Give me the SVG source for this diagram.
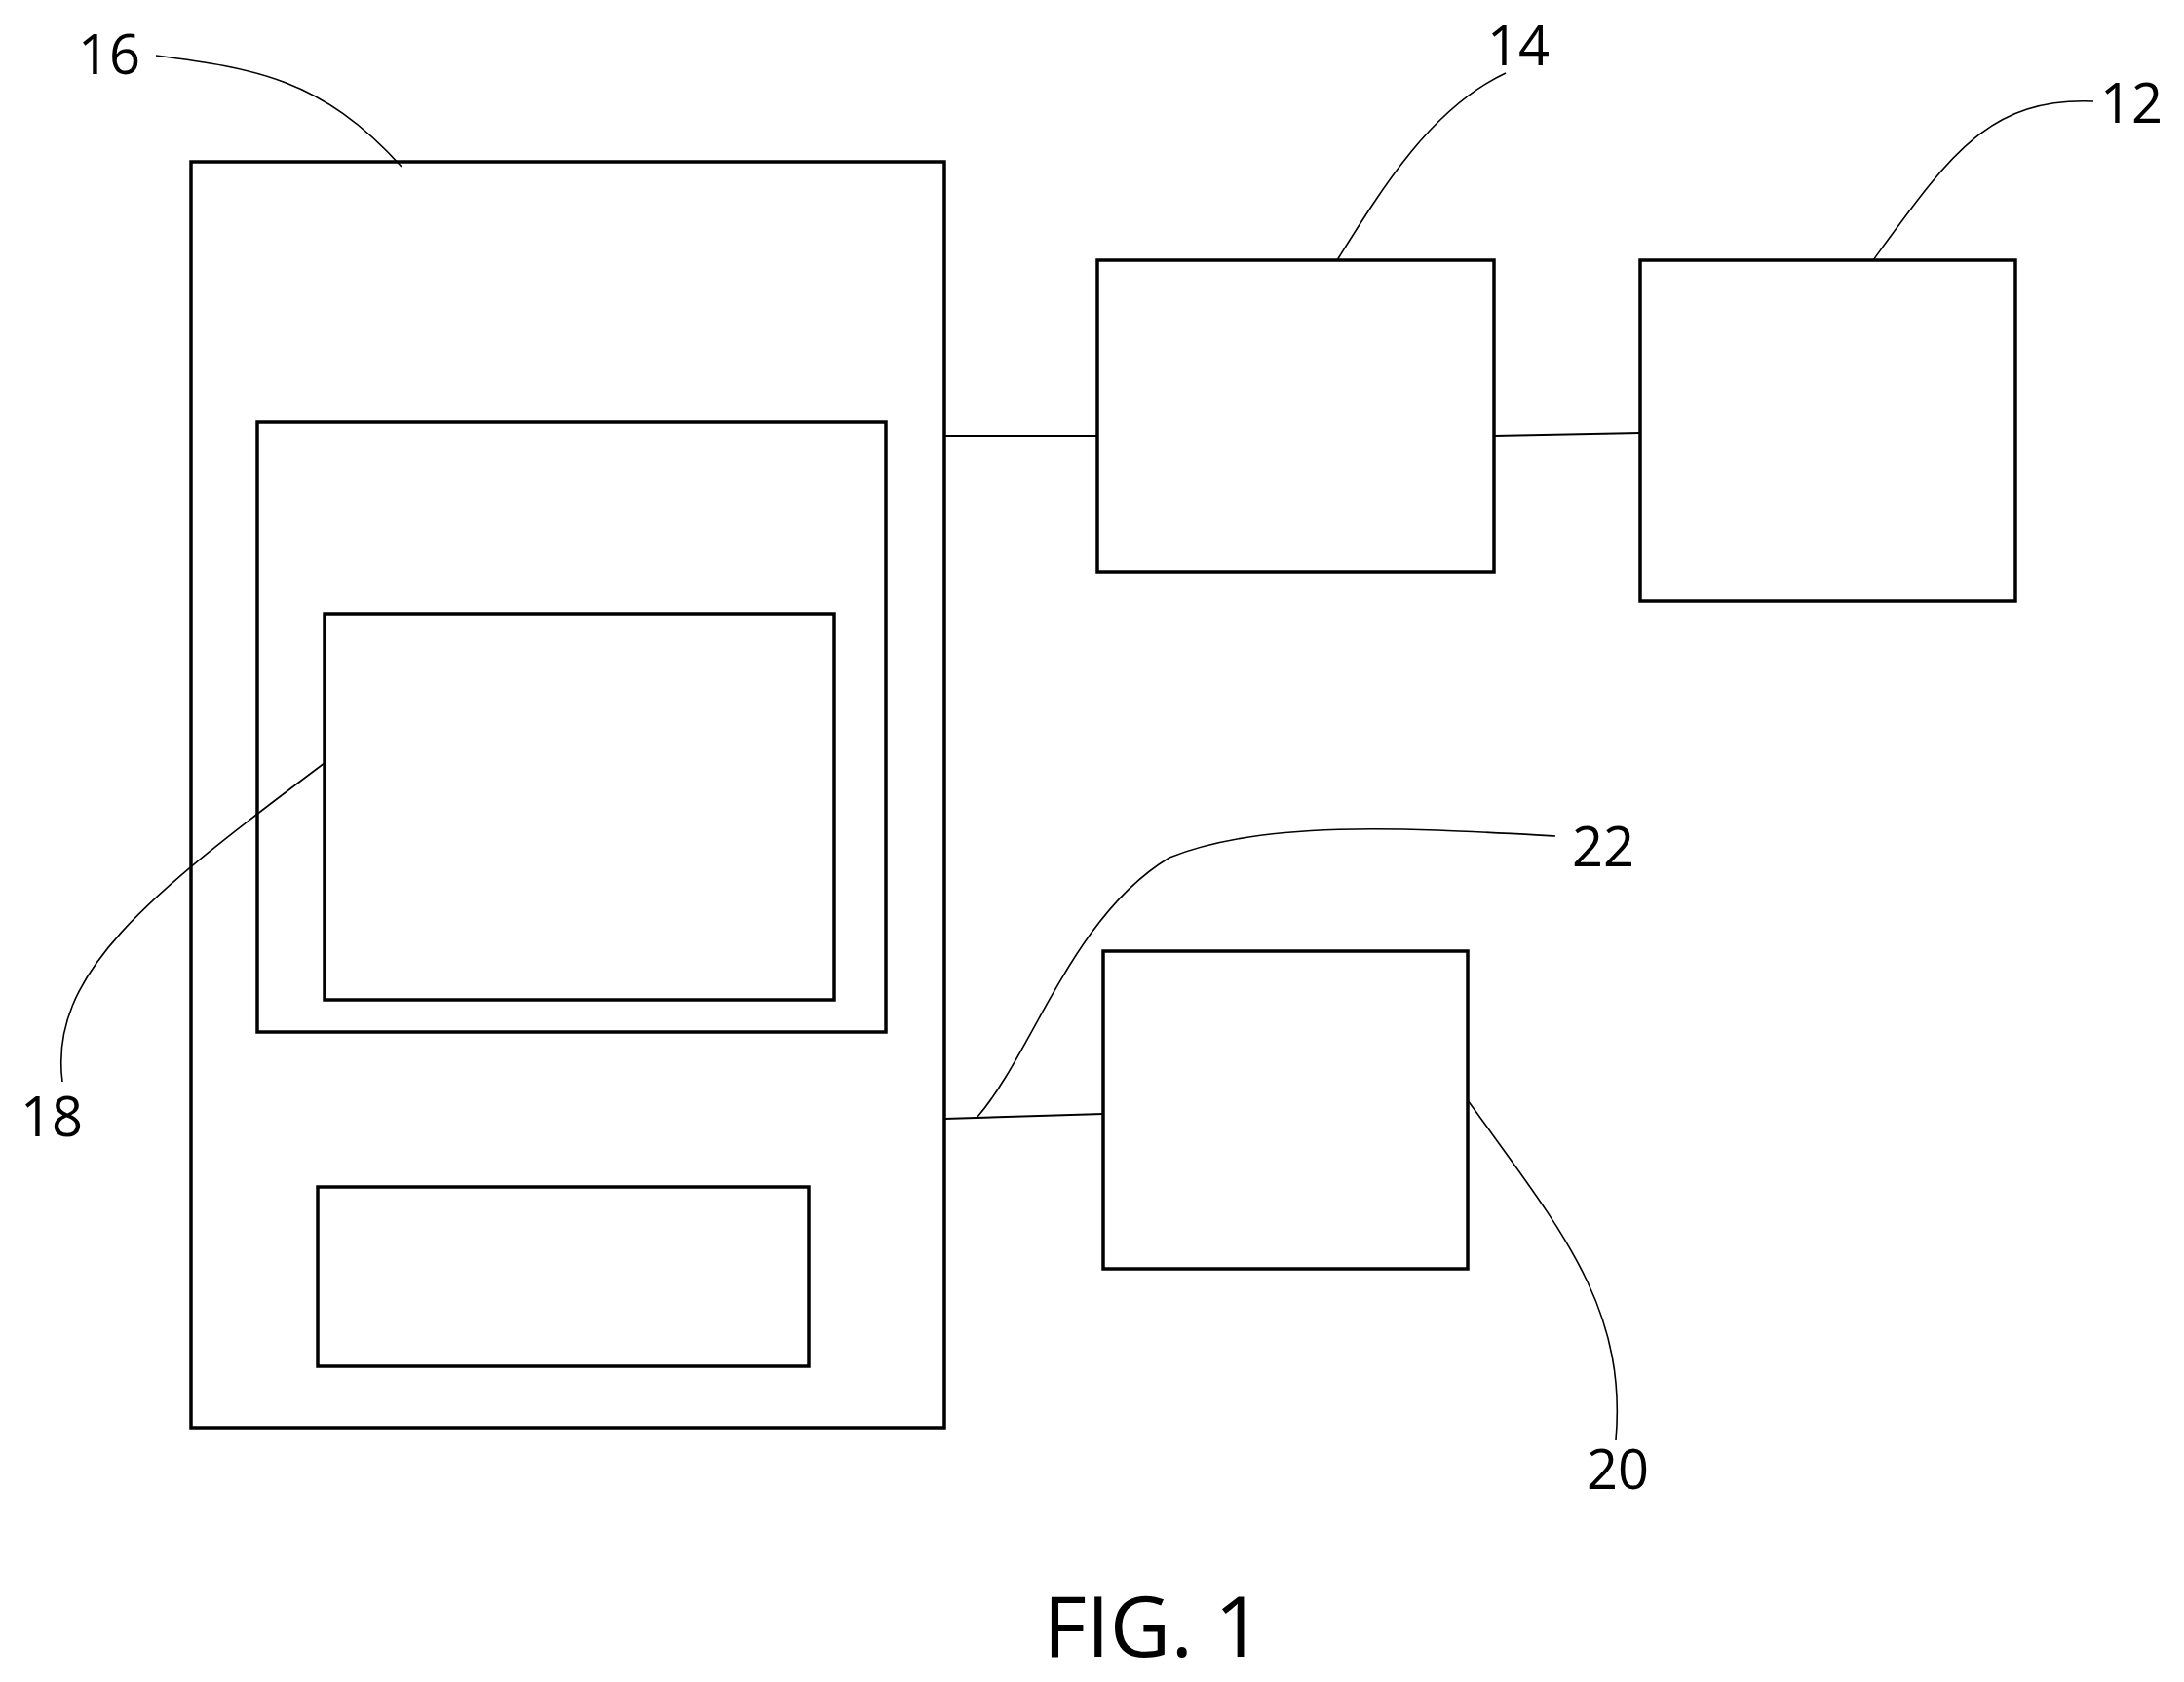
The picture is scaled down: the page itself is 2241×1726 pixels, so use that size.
<svg xmlns="http://www.w3.org/2000/svg" width="2241" height="1726" viewBox="0 0 2241 1726">
<style>
.b{fill:none;stroke:#000;stroke-width:3.5}
.c{fill:none;stroke:#000;stroke-width:2}
.l{fill:none;stroke:#000;stroke-width:1.6}
text{font-family:"Open Sans","Liberation Sans",sans-serif;font-size:56px;fill:#000;text-anchor:middle}
</style>
<rect width="2241" height="1726" fill="#fff"/>
<g id="node16"><rect class="b" x="196" y="166" width="773" height="1299"/></g>
<g id="inner"><rect class="b" x="264" y="433" width="645" height="626"/></g>
<g id="node18box"><rect class="b" x="333" y="630" width="523" height="396"/></g>
<g id="bottom"><rect class="b" x="326" y="1218" width="504" height="184"/></g>
<g id="node14"><rect class="b" x="1126" y="267" width="407" height="320"/></g>
<g id="node12"><rect class="b" x="1683" y="267" width="385" height="350"/></g>
<g id="node20"><rect class="b" x="1132" y="976" width="374" height="326"/></g>
<g id="connectors">
<line class="c" x1="969" y1="447" x2="1126" y2="447"/>
<line class="c" x1="1533" y1="447" x2="1683" y2="444"/>
<line class="c" x1="969" y1="1148" x2="1132" y2="1143"/>
</g>
<g id="leaders">
<path class="l" d="M160,57 C260,70 330,80 412,171"/>
<path class="l" d="M1545,75 C1470,110 1420,190 1372,267"/>
<path class="l" d="M2148,104 C2040,100 2000,160 1922,267"/>
<path class="l" d="M1596,858 C1450,850 1300,840 1200,880 C1100,940 1060,1080 1003,1146"/>
<path class="l" d="M64,1110 C50,1000 150,920 333,783"/>
<path class="l" d="M1658,1478 C1670,1340 1600,1260 1506,1129"/>
</g>
<g id="labels">
<text x="112" y="76">16</text>
<text x="1558" y="67">14</text>
<text x="2187" y="126">12</text>
<text x="1645" y="889">22</text>
<text x="53" y="1166">18</text>
<text x="1660" y="1528">20</text>
<text x="1183" y="1700" style="font-size:86px">FIG. 1</text>
</g>
</svg>
